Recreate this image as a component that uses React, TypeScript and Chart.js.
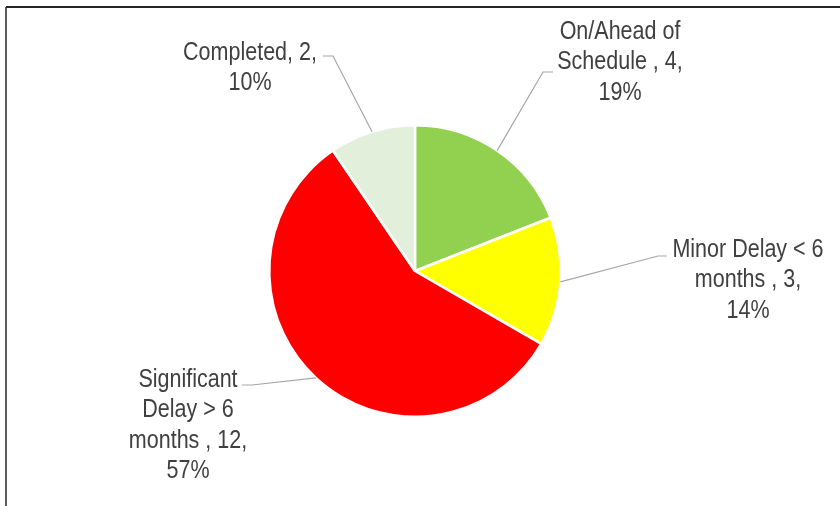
import React, { useEffect, useRef } from "react";
import { Chart, registerables } from "chart.js";

Chart.register(...registerables);

const categories = ["On/Ahead of Schedule ", "Minor Delay < 6 months ", "Significant Delay > 6 months ", "Completed"];
const counts = [4, 3, 12, 2];
const percentLabels = ["19%", "14%", "57%", "10%"];
const labelLines = [
  ["On/Ahead of", "Schedule , 4,", "19%"],
  ["Minor Delay < 6", "months , 3,", "14%"],
  ["Significant", "Delay > 6", "months , 12,", "57%"],
  ["Completed, 2,", "10%"],
];
const sliceColors = ["#92D050", "#FFFF00", "#FF0000", "#E2EFDA"];

// label layout relative to pie centre: text centre x, first-line y, elbow, horizontal end
const labelLayout = [
  { tx: 205, ty: -239, ex: 128, ey: -199, hx: 138 },
  { tx: 333, ty: -21, ex: 243, ey: -15, hx: 252 },
  { tx: -227, ty: 109, ex: -163, ey: 114, hx: -173 },
  { tx: -165, ty: -218, ex: -82, ey: -215, hx: -92 },
];

const labelPlugin = {
  id: "calloutLabels",
  afterDatasetsDraw(chart: any) {
    const ctx = chart.ctx;
    const meta = chart.getDatasetMeta(0);
    ctx.save();
    meta.data.forEach((arc: any, i: number) => {
      const { x, y, startAngle, endAngle, outerRadius } = arc.getProps(["x", "y", "startAngle", "endAngle", "outerRadius"], true);
      const mid = (startAngle + endAngle) / 2;
      const px = x + Math.cos(mid) * outerRadius;
      const py = y + Math.sin(mid) * outerRadius;
      const L = labelLayout[i];
      ctx.strokeStyle = "#A6A6A6";
      ctx.lineWidth = 1.2;
      ctx.beginPath();
      ctx.moveTo(px, py);
      ctx.lineTo(x + L.ex, y + L.ey);
      ctx.lineTo(x + L.hx, y + L.ey);
      ctx.stroke();
      ctx.fillStyle = "#404040";
      ctx.font = '25px "Liberation Sans Narrow", "Arial Narrow", "Liberation Sans", sans-serif';
      ctx.textAlign = "center";
      ctx.textBaseline = "middle";
      labelLines[i].forEach((t, k) => {
        ctx.save();
        ctx.translate(x + L.tx, y + L.ty + k * 30.5);
        ctx.scale(0.86, 1);
        ctx.fillText(t, 0, 0);
        ctx.restore();
      });
    });
    // frame
    ctx.strokeStyle = "#262626";
    ctx.lineWidth = 2;
    ctx.beginPath();
    ctx.moveTo(840, 7);
    ctx.lineTo(6, 7);
    ctx.stroke();
    ctx.lineWidth = 1.5;
    ctx.beginPath();
    ctx.moveTo(6, 7);
    ctx.lineTo(6, 506);
    ctx.stroke();
    ctx.restore();
  },
};

export default function App() {
  const ref = useRef<HTMLCanvasElement>(null);
  useEffect(() => {
    if (!ref.current) return;
    const chart = new Chart(ref.current, {
      type: "pie",
      data: {
        labels: categories,
        datasets: [
          {
            data: counts,
            backgroundColor: sliceColors,
            borderColor: "#FFFFFF",
            borderWidth: 2.5,
          },
        ],
      },
      options: {
        animation: false,
        responsive: false,
        maintainAspectRatio: false,
        layout: { padding: { left: 100, right: 110, top: 124, bottom: 88 } },
        plugins: {
          legend: { display: false },
          tooltip: { enabled: false },
          title: { display: false },
        },
      },
      plugins: [labelPlugin],
    });
    return () => chart.destroy();
  }, []);
  return (
    <div style={{ position: "fixed", left: 0, top: 0, width: 840, height: 506, background: "#fff" }}>
      <canvas ref={ref} width={840} height={506} style={{ width: 840, height: 506, display: "block" }} />
    </div>
  );
}
